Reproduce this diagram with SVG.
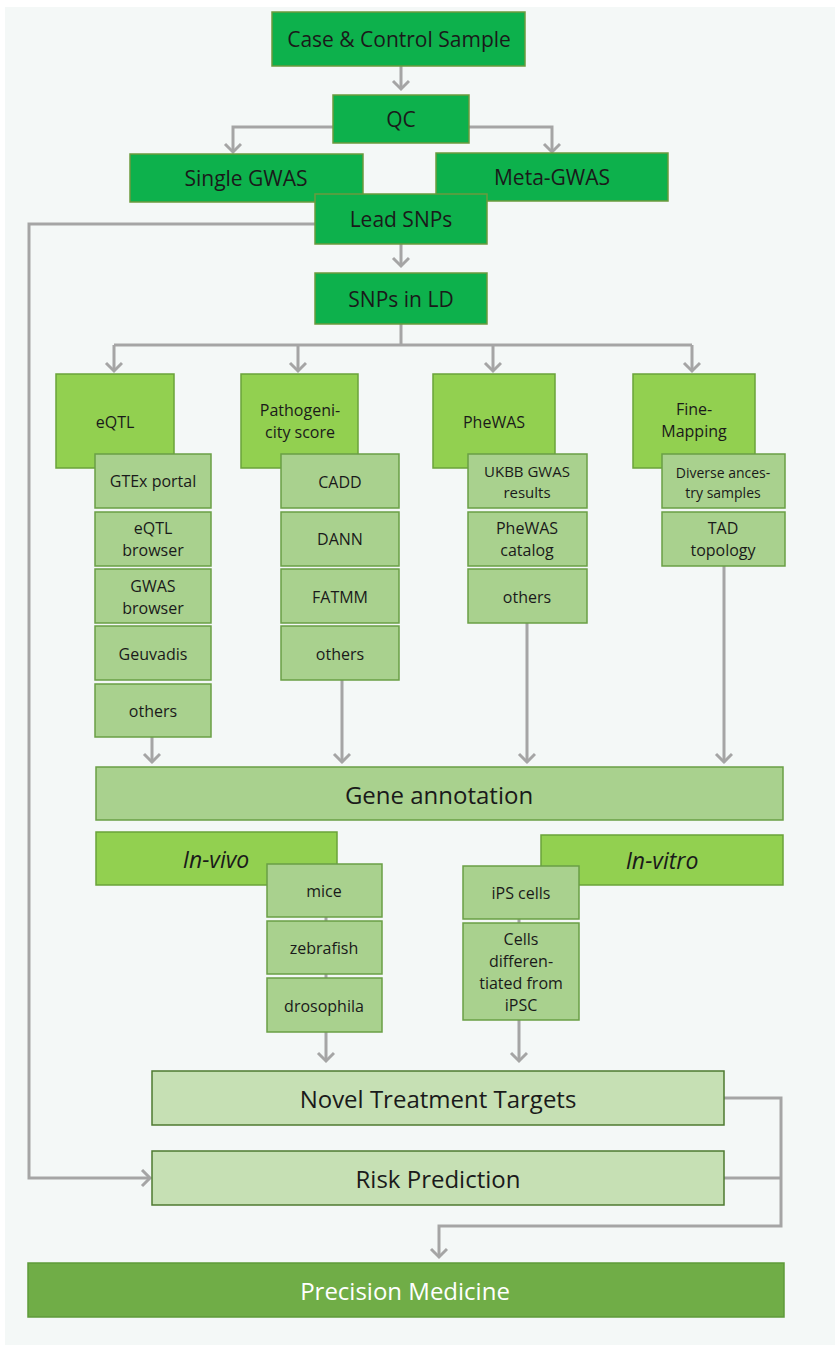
<svg xmlns="http://www.w3.org/2000/svg" width="837" height="1348" viewBox="0 0 837 1348">
<style>
text{font-family:"Open Sans","Noto Sans",sans-serif;fill:#1a1a1a;text-anchor:middle;dominant-baseline:central}
.dg{fill:#0db14c;stroke:#6b9a3e;stroke-width:1.5}
.lg{fill:#92d050;stroke:#6aa33a;stroke-width:1.5}
.mg{fill:#a9d18e;stroke:#6a9f45;stroke-width:1.5}
.pg{fill:#c6e0b4;stroke:#4e7a30;stroke-width:1.5}
.pm{fill:#70ad47;stroke:#5e9a3a;stroke-width:1.5}
.c{fill:none;stroke:#a5a5a5;stroke-width:3}
.a{marker-end:url(#ah)}
.t21{font-size:21px}.t24{font-size:24px}.t16{font-size:16px}.t15{font-size:15px}.t14{font-size:14px}
.it{font-style:italic;font-size:23px}
</style>
<defs>
<marker id="ah" markerUnits="userSpaceOnUse" markerWidth="14" markerHeight="20" viewBox="-1 -1 12 20" refX="8" refY="8" orient="auto">
<path d="M0,0 L8,8 L0,16" fill="none" stroke="#a5a5a5" stroke-width="3"/>
</marker>
</defs>
<rect x="5" y="7" width="830" height="1338" fill="#f4f8f7"/>
<g id="connectors">
<path class="c a" d="M401,66 V89"/>
<path class="c a" d="M333,127 H233 V152"/>
<path class="c a" d="M469,127 H552 V152"/>
<path class="c a" d="M315,224 H29 V1178 H150"/>
<path class="c a" d="M401,244 V266"/>
<path class="c" d="M401,324 V345 M114,345 H692"/>
<path class="c a" d="M114,345 V371"/>
<path class="c a" d="M298,345 V371"/>
<path class="c a" d="M493,345 V371"/>
<path class="c a" d="M692,345 V371"/>
<path class="c a" d="M152,737 V762"/>
<path class="c a" d="M342,680 V762"/>
<path class="c a" d="M527,623 V762"/>
<path class="c a" d="M724,566 V762"/>
<path class="c a" d="M326,917 V1061"/>
<path class="c a" d="M519,919 V1061"/>
<path class="c a" d="M724,1098 H781 V1226 H439 V1257"/>
<path class="c" d="M724,1178 H781"/>
</g>
<g id="case-control"><rect class="dg" x="272" y="12" width="253" height="54"/><text class="t21" x="399" y="39">Case &amp; Control Sample</text></g>
<g id="qc"><rect class="dg" x="333" y="95" width="136" height="48"/><text class="t21" x="401" y="119">QC</text></g>
<g id="single-gwas"><rect class="dg" x="130" y="154" width="233" height="48"/><text class="t21" x="246" y="178">Single GWAS</text></g>
<g id="meta-gwas"><rect class="dg" x="436" y="153" width="232" height="48"/><text class="t21" x="552" y="177">Meta-GWAS</text></g>
<g id="lead-snps"><rect class="dg" x="315" y="194" width="172" height="50"/><text class="t21" x="401" y="219">Lead SNPs</text></g>
<g id="snps-ld"><rect class="dg" x="315" y="273" width="172" height="51"/><text class="t21" x="401" y="299">SNPs in LD</text></g>

<g id="eqtl"><rect class="lg" x="56" y="374" width="118" height="94"/><text class="t16" x="115" y="422">eQTL</text></g>
<g id="gtex"><rect class="mg" x="95" y="454" width="116" height="54"/><text class="t16" x="153" y="481">GTEx portal</text></g>
<g id="eqtl-browser"><rect class="mg" x="95" y="512" width="116" height="54"/><text class="t16" x="153" y="528">eQTL</text><text class="t16" x="153" y="550">browser</text></g>
<g id="gwas-browser"><rect class="mg" x="95" y="569" width="116" height="54"/><text class="t16" x="153" y="586">GWAS</text><text class="t16" x="153" y="608">browser</text></g>
<g id="geuvadis"><rect class="mg" x="95" y="626" width="116" height="54"/><text class="t16" x="153" y="654">Geuvadis</text></g>
<g id="eqtl-others"><rect class="mg" x="95" y="684" width="116" height="53"/><text class="t16" x="153" y="711">others</text></g>

<g id="pathogenicity"><rect class="lg" x="241" y="374" width="117" height="94"/><text class="t16" x="300" y="410">Pathogeni-</text><text class="t16" x="300" y="432">city score</text></g>
<g id="cadd"><rect class="mg" x="281" y="454" width="118" height="54"/><text class="t16" x="340" y="482">CADD</text></g>
<g id="dann"><rect class="mg" x="281" y="512" width="118" height="54"/><text class="t16" x="340" y="539">DANN</text></g>
<g id="fatmm"><rect class="mg" x="281" y="569" width="118" height="54"/><text class="t16" x="340" y="597">FATMM</text></g>
<g id="path-others"><rect class="mg" x="281" y="626" width="118" height="54"/><text class="t16" x="340" y="654">others</text></g>

<g id="phewas"><rect class="lg" x="433" y="374" width="122" height="94"/><text class="t16" x="494" y="422">PheWAS</text></g>
<g id="ukbb"><rect class="mg" x="468" y="454" width="119" height="54"/><text class="t15" x="527" y="471">UKBB GWAS</text><text class="t15" x="527" y="492">results</text></g>
<g id="phewas-catalog"><rect class="mg" x="468" y="512" width="119" height="54"/><text class="t16" x="527" y="528">PheWAS</text><text class="t16" x="527" y="550">catalog</text></g>
<g id="phewas-others"><rect class="mg" x="468" y="569" width="119" height="54"/><text class="t16" x="527" y="597">others</text></g>

<g id="fine-mapping"><rect class="lg" x="633" y="374" width="122" height="94"/><text class="t16" x="694" y="409">Fine-</text><text class="t16" x="694" y="431">Mapping</text></g>
<g id="diverse"><rect class="mg" x="662" y="454" width="123" height="54"/><text class="t14" x="723" y="472">Diverse ances-</text><text class="t14" x="723" y="492">try samples</text></g>
<g id="tad"><rect class="mg" x="662" y="512" width="123" height="54"/><text class="t16" x="723" y="528">TAD</text><text class="t16" x="723" y="550">topology</text></g>

<g id="gene-annotation"><rect class="mg" x="96" y="767" width="687" height="53"/><text class="t24" x="439" y="794">Gene annotation</text></g>

<g id="in-vivo"><rect class="lg" x="96" y="832" width="241" height="53"/><text class="it" x="216" y="859">In-vivo</text></g>
<g id="mice"><rect class="mg" x="267" y="864" width="115" height="53"/><text class="t16" x="324" y="891">mice</text></g>
<g id="zebrafish"><rect class="mg" x="267" y="921" width="115" height="53"/><text class="t16" x="324" y="948">zebrafish</text></g>
<g id="drosophila"><rect class="mg" x="267" y="978" width="115" height="54"/><text class="t16" x="324" y="1006">drosophila</text></g>

<g id="in-vitro"><rect class="lg" x="541" y="835" width="242" height="50"/><text class="it" x="662" y="860">In-vitro</text></g>
<g id="ips-cells"><rect class="mg" x="463" y="866" width="116" height="53"/><text class="t16" x="521" y="893">iPS cells</text></g>
<g id="cells-diff"><rect class="mg" x="463" y="923" width="116" height="97"/><text class="t16" x="521" y="939">Cells</text><text class="t16" x="521" y="961">differen-</text><text class="t16" x="521" y="983">tiated from</text><text class="t16" x="521" y="1005">iPSC</text></g>

<g id="novel-targets"><rect class="pg" x="152" y="1071" width="572" height="54"/><text class="t24" x="438" y="1098">Novel Treatment Targets</text></g>
<g id="risk-prediction"><rect class="pg" x="152" y="1151" width="572" height="54"/><text class="t24" x="438" y="1178">Risk Prediction</text></g>
<g id="precision-medicine"><rect class="pm" x="28" y="1263" width="756" height="54"/><text class="t24" x="405" y="1290" style="fill:#ffffff">Precision Medicine</text></g>
</svg>
